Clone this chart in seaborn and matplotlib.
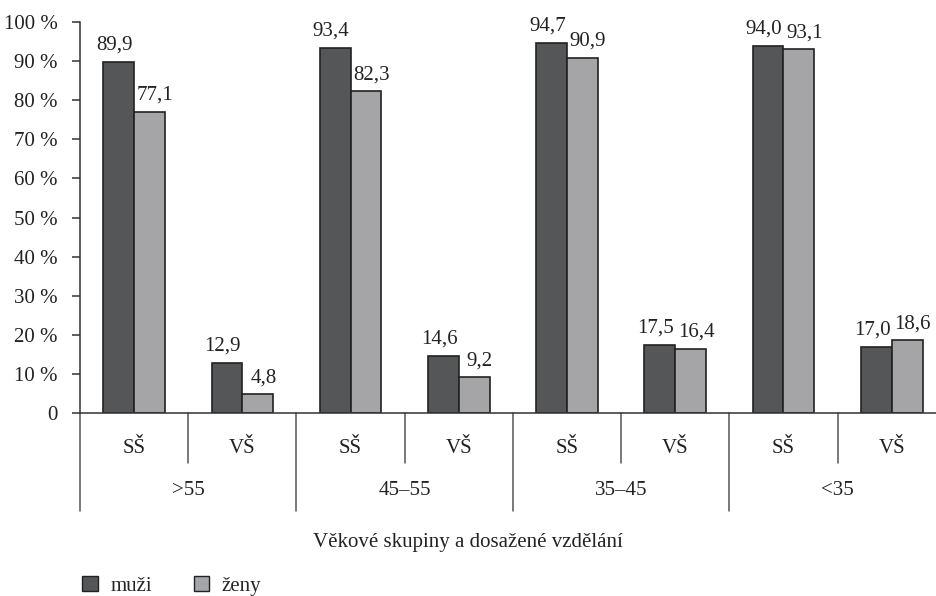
import pandas as pd
import numpy as np
import matplotlib.pyplot as plt
import seaborn as sns
from matplotlib.patches import Patch

vekove_skupiny = [">55", "45–55", "35–45", "<35"]
vzdelani = ["SŠ", "VŠ"]
muzi = [89.9, 12.9, 93.4, 14.6, 94.7, 17.5, 94.0, 17.0]
zeny = [77.1, 4.8, 82.3, 9.2, 90.9, 16.4, 93.1, 18.6]
y_ticks = [0, 10, 20, 30, 40, 50, 60, 70, 80, 90, 100]

barva_muzi = "#545658"
barva_zeny = "#a4a5a8"
txt = "#222222"
fs = 15

kategorie = [s + "|" + v for s in vekove_skupiny for v in vzdelani]
df = pd.DataFrame({
    "kat": kategorie * 2,
    "pohlavi": ["muži"] * len(muzi) + ["ženy"] * len(zeny),
    "hodnota": muzi + zeny,
})

sns.set_style("white")
plt.rcParams["font.family"] = ["Liberation Serif", "DejaVu Serif"]

fig = plt.figure(figsize=(9.36, 5.96), dpi=100)
ax = fig.add_axes([0.0855, 0.307, 0.925, 0.656])

sns.barplot(data=df, x="kat", y="hodnota", hue="pohlavi", order=kategorie,
            palette={"muži": barva_muzi, "ženy": barva_zeny},
            width=0.57, edgecolor="#222222", linewidth=1.2, ax=ax, legend=False)

# popisky hodnot, tmavé trochu doleva, světlé doprava
for cont, vals, dx in zip(ax.containers, [muzi, zeny], [-3, 4]):
    for bar, v in zip(cont, vals):
        ax.annotate(f"{v:.1f}".replace(".", ","),
                    (bar.get_x() + bar.get_width() / 2, bar.get_height()),
                    xytext=(dx, 5), textcoords="offset points",
                    ha="center", va="bottom", fontsize=fs, color=txt)

ax.set_xlim(-0.5, len(kategorie) - 0.5)
ax.set_ylim(0, 100)
ax.set_yticks(y_ticks)
ax.set_yticklabels(["0"] + [f"{t} %" for t in y_ticks[1:]], fontsize=fs, color=txt)
ax.tick_params(axis="y", direction="out", length=6, width=1.1, color="#333333", pad=10, left=True)
ax.set_xticks([])
ax.set_xlabel("")
ax.set_ylabel("")
for s in ["top", "right"]:
    ax.spines[s].set_visible(False)
for s in ["left", "bottom"]:
    ax.spines[s].set_color("#333333")
    ax.spines[s].set_linewidth(1.1)

tr = ax.get_xaxis_transform()
# popisky vzdělání a skupin pod osou
for i, k in enumerate(kategorie):
    ax.text(i, -0.09, k.split("|")[1], transform=tr, ha="center", va="center",
            fontsize=fs, color=txt)
    if i % 2 == 1:
        ax.plot([i - 0.5, i - 0.5], [0, -0.128], transform=tr, clip_on=False,
                color="#555555", lw=1.1)
for j, skup in enumerate(vekove_skupiny):
    ax.text(2 * j + 0.5, -0.197, skup, transform=tr, ha="center", va="center",
            fontsize=fs, color=txt)
    ax.plot([2 * j - 0.5, 2 * j - 0.5], [0, -0.25], transform=tr, clip_on=False,
            color="#555555", lw=1.1)

fig.text(0.5, 1 - 543 / 596, "Věkové skupiny a dosažené vzdělání",
         ha="center", va="center", fontsize=fs, color=txt)

handles = [Patch(facecolor=barva_muzi, edgecolor="#222222", label="muži"),
           Patch(facecolor=barva_zeny, edgecolor="#222222", label="ženy")]
fig.legend(handles=handles, loc="center left", bbox_to_anchor=(0.088, 1 - 586 / 596),
           ncol=2, frameon=False, fontsize=fs, handlelength=0.75, handleheight=0.75,
           handletextpad=0.6, columnspacing=2.0, borderpad=0, borderaxespad=0)

fig.savefig("out.png", dpi=100)
